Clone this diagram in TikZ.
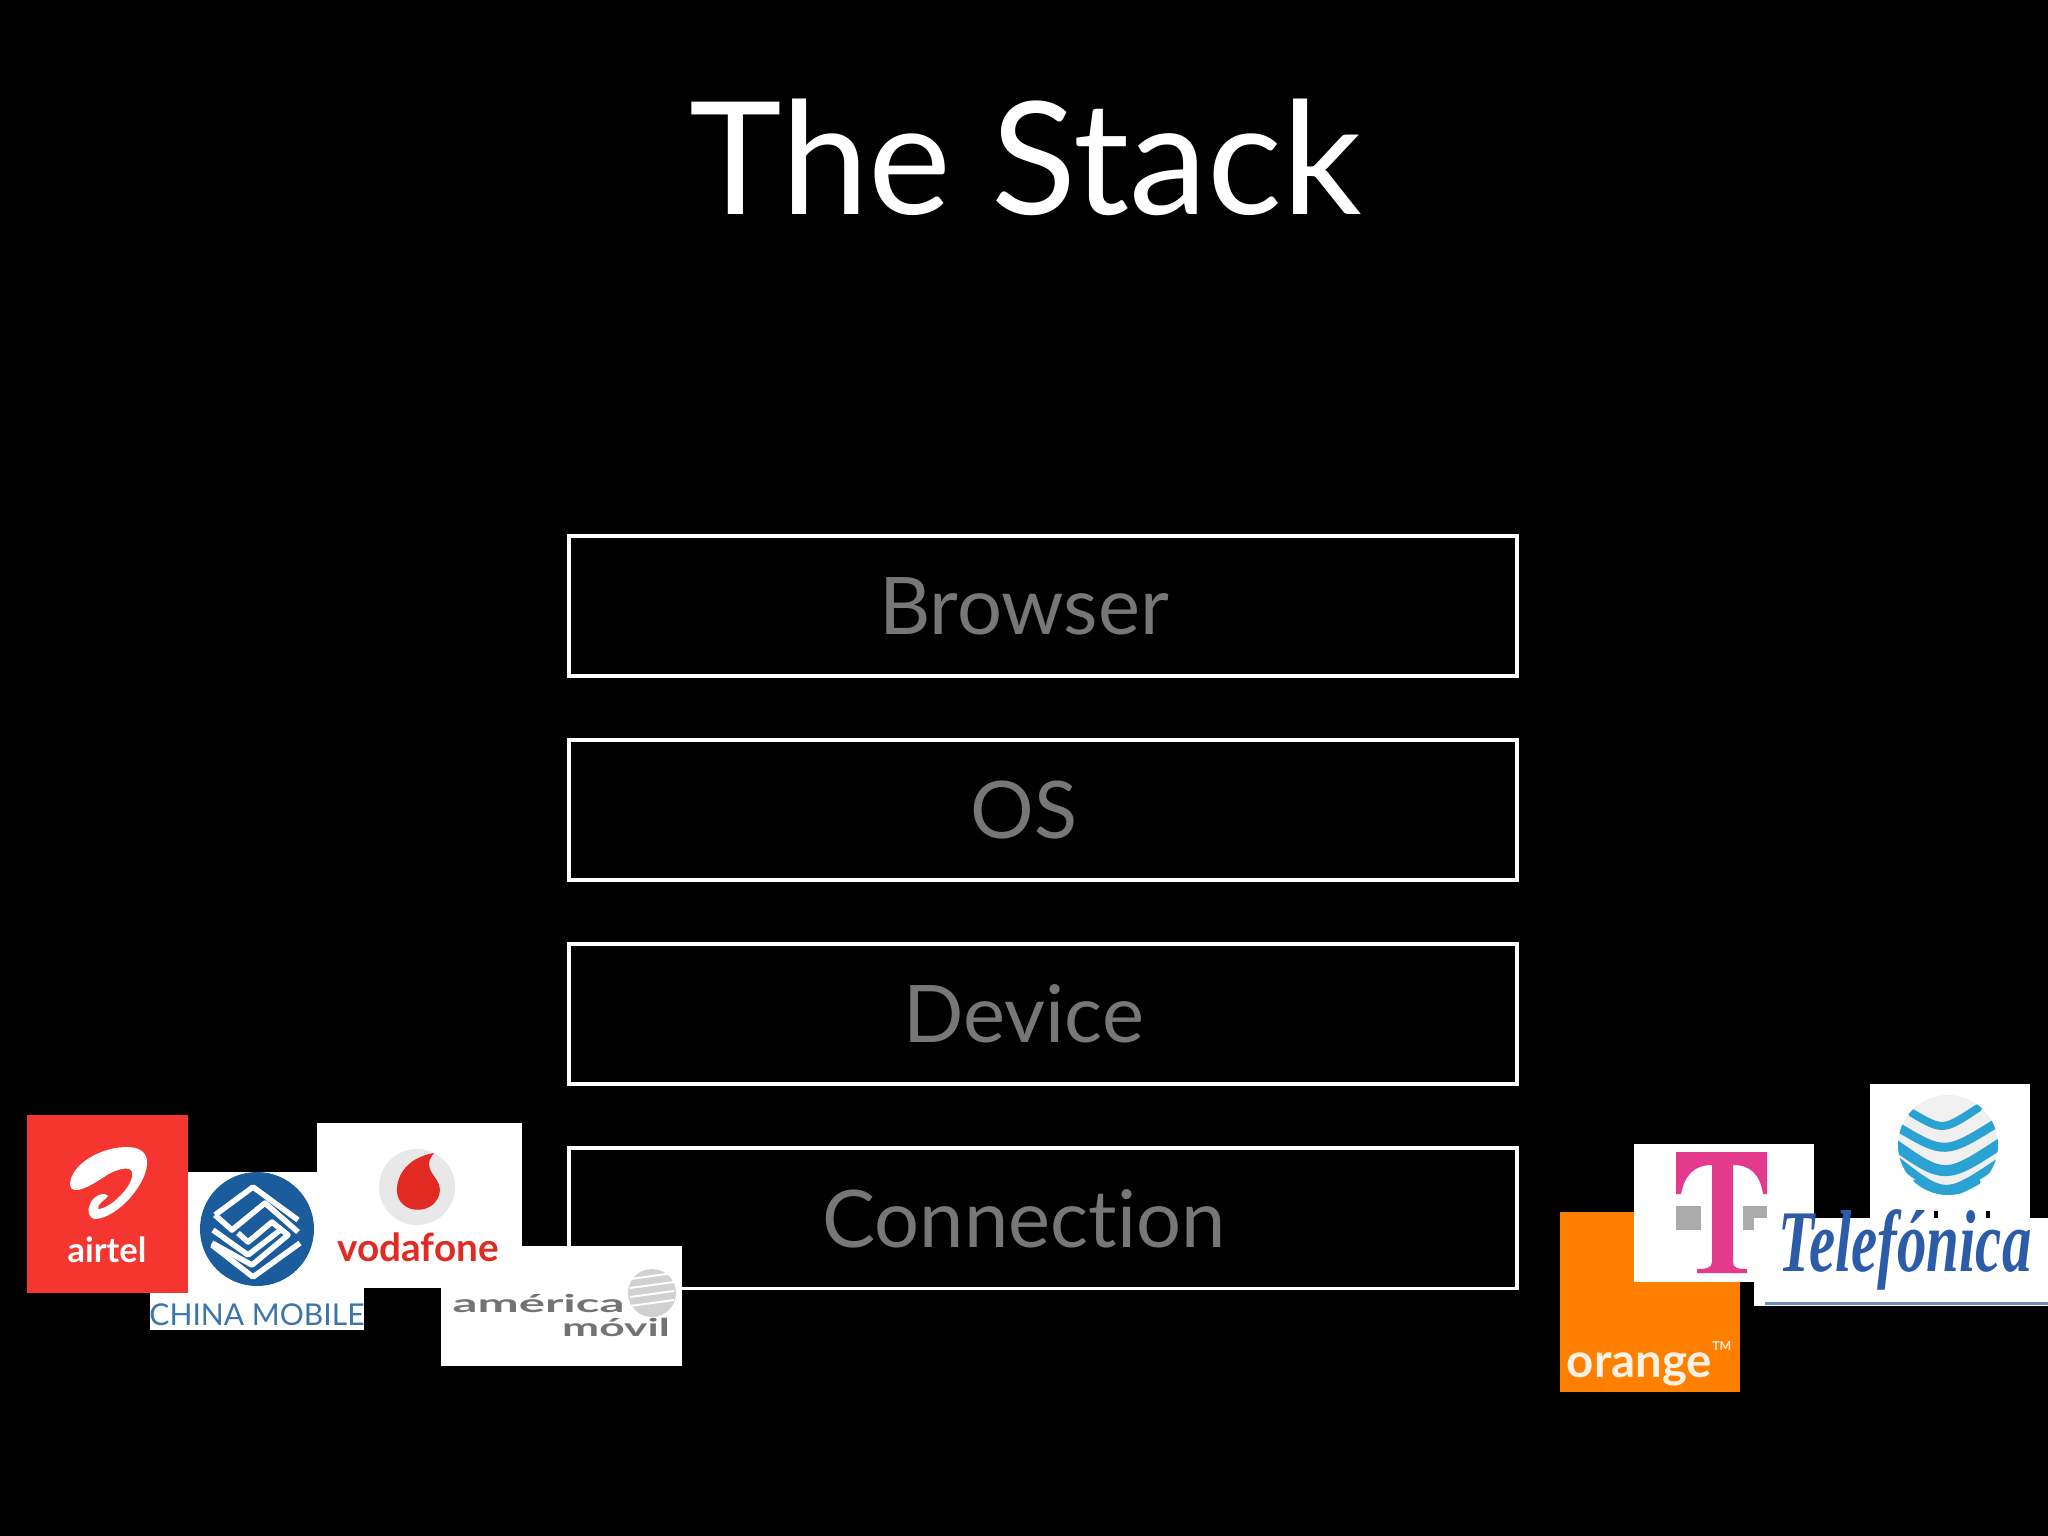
\documentclass[tikz,border=0pt]{standalone}
\usepackage{fontspec}
\setmainfont[Ligatures=NoCommon]{Lato}
\newfontfamily\serifit{Liberation Serif}
\usetikzlibrary{positioning}
\definecolor{stackgrey}{HTML}{777777}
\definecolor{airtelred}{HTML}{F43530}
\definecolor{chinablue}{HTML}{1B5C9C}
\definecolor{vodared}{HTML}{E02A22}
\definecolor{tpink}{HTML}{E43A8E}
\definecolor{attblue}{HTML}{2AA3D2}
\definecolor{telblue}{HTML}{2C5CA8}
\definecolor{orangebg}{HTML}{FF7F00}
\tikzset{
  stackbox/.style={draw=white, line width=.038cm, minimum width=9.47cm, minimum height=1.4cm, inner sep=0pt, outer sep=0pt},
  stacktext/.style={text=stackgrey, font=\fontsize{22.6}{26}\selectfont, inner sep=0pt},
  logobox/.style={fill=white, inner sep=0pt, outer sep=0pt, anchor=north west},
  logotext/.style={inner sep=0pt},
  chinaband/.style={white, line width=.055cm, line join=round},
  attband/.style={attblue, line cap=round}
}
\begin{document}
\begin{tikzpicture}[x=.01cm, y=-.01cm]
\useasboundingbox (0,0) rectangle (2048,1536);
\fill[black] (0,0) rectangle (2048,1536);
\node[text=white, inner sep=0pt, font=\fontsize{44.6}{50}\selectfont] (title) at (1026,157) {The Stack};

\node[stackbox] (browser) at (1043,606) {};
\node[stackbox, below=.64cm of browser] (os) {};
\node[stackbox, below=.64cm of os] (device) {};
\node[stackbox, below=.64cm of device] (connection) {};
\node[stacktext] (browsertext) at ([xshift=-.19cm]browser.center) {Browser};
\node[stacktext] (ostext) at ([xshift=-.19cm]os.center) {OS};
\node[stacktext] (devicetext) at ([xshift=-.19cm]device.center) {Device};
\node[stacktext] (connectiontext) at ([xshift=-.19cm]connection.center) {Connection};

\node[logobox, minimum width=2.14cm, minimum height=1.58cm] (china) at (150,1172) {};
\node[logobox, fill=airtelred, minimum width=1.61cm, minimum height=1.78cm] (airtel) at (27,1115) {};
\node[logobox, minimum width=2.05cm, minimum height=1.65cm] (vodafone) at (317,1123) {};
\node[logobox, minimum width=2.41cm, minimum height=1.2cm] (america) at (441,1246) {};

\fill[white] (70,1185) .. controls (70,1165) and (100,1147) .. (127,1147) .. controls (140,1147) and (148,1153) .. (147,1164) .. controls (146,1185) and (118,1217) .. (96,1219) .. controls (88,1219) and (87,1210) .. (90,1204) .. controls (93,1196) and (104,1191) .. (108,1196) .. controls (106,1200) and (97,1203) .. (98,1209) .. controls (110,1209) and (135,1185) .. (132,1172) .. controls (130,1165) and (115,1170) .. (107,1175) .. controls (95,1183) and (72,1198) .. (70,1185) -- cycle;
\node[logotext, text=white, font=\fontsize{9.8}{12}\bfseries\selectfont] (airteltext) at (107,1250) {airtel};

\fill[chinablue] (257,1229) circle (57);
\draw[chinaband] (215,1215) -- (253,1187) -- (298,1220);
\draw[chinaband] (215,1215) -- (232,1230) -- (265,1203) -- (298,1232);
\draw[chinaband] (213,1230) -- (248,1255) -- (283,1228);
\draw[chinaband] (238,1233) -- (248,1242) -- (272,1222) -- (288,1235) -- (252,1265) -- (212,1243);
\draw[chinaband] (212,1245) -- (253,1277) -- (300,1243);
\node[logotext, text=chinablue!85, font=\fontsize{8.55}{10}\selectfont] (chinatext) at (257,1315) {CHINA MOBILE};

\fill[black!9] (417,1187) circle (38);
\fill[vodared] (434,1153) .. controls (405,1158) and (396,1178) .. (397,1192) .. controls (399,1216) and (438,1216) .. (440,1190) .. controls (440,1176) and (420,1170) .. (434,1153) -- cycle;
\node[logotext, text=vodared, font=\fontsize{11}{13}\bfseries\selectfont] (vodafonetext) at (418,1247) {vodafone};

\fill[black!18] (652,1293) circle (24);
\foreach \s in {-14,-5,4,13}
  \draw[white, line width=.02cm] (630,1293+\s) -- (674,1293+\s-6);
\node[logotext, text=black!55, font=\fontsize{7}{8}\bfseries\selectfont, transform shape, xscale=2, anchor=east] (americatext) at (626,1303) {américa};
\node[logotext, text=black!55, font=\fontsize{7}{8}\bfseries\selectfont, transform shape, xscale=1.8, anchor=east] (moviltext) at (671,1327) {móvil};

\node[logobox, fill=orangebg, minimum width=1.8cm, minimum height=1.8cm] (orange) at (1560,1212) {};
\node[logotext, text=white!90!orange, font=\fontsize{13.5}{15}\bfseries\selectfont, anchor=west] (orangetext) at (1566,1364) {orange\raisebox{1.1ex}{\fontsize{3.5}{4}\selectfont TM}};

\node[logobox, minimum width=1.8cm, minimum height=1.38cm] (tmobile) at (1634,1144) {};
\fill[tpink] (1676,1152) -- (1767,1152) -- (1767,1194) -- (1763,1194) .. controls (1760,1174) and (1750,1165) .. (1733,1165) -- (1733,1262) .. controls (1733,1268) and (1738,1269) .. (1747,1269) -- (1747,1273) -- (1697,1273) -- (1697,1269) .. controls (1706,1269) and (1712,1268) .. (1712,1262) -- (1712,1165) .. controls (1695,1165) and (1685,1174) .. (1681,1194) -- (1676,1194) -- cycle;
\fill[black!33] (1676,1206) rectangle (1701,1230);
\fill[black!33] (1743,1206) rectangle (1767,1230);

\node[logobox, minimum width=1.6cm, minimum height=1.4cm] (att) at (1870,1084) {};
\begin{scope}
\clip (1948,1145) circle (50);
\fill[black!6] (1948,1145) circle (50);
\draw[attband, line width=.08cm] (1912,1113) .. controls (1943,1131) .. (1978,1108);
\draw[attband, line width=.09cm] (1896,1126) .. controls (1945,1155) .. (1998,1122);
\draw[attband, line width=.11cm] (1892,1143) .. controls (1945,1180) .. (2003,1142);
\draw[attband, line width=.08cm] (1896,1160) .. controls (1945,1198) .. (1998,1163);
\draw[attband, line width=.05cm] (1915,1182) .. controls (1948,1198) .. (1978,1182);
\end{scope}
\fill[black] (1934,1211) rectangle (1938,1218);
\fill[black] (1986,1211) rectangle (1990,1218);

\node[logobox, minimum width=2.94cm, minimum height=.88cm] (telefonica) at (1754,1218) {};
\draw[telblue!70, line width=.03cm] (1765,1303) -- (2048,1303);
\node[logotext, text=telblue, anchor=west, font=\serifit\fontsize{25}{28}\bfseries\itshape\selectfont, transform shape, xscale=.67] (telefonicatext) at (1778,1250) {Telefónica};
\end{tikzpicture}
\end{document}
